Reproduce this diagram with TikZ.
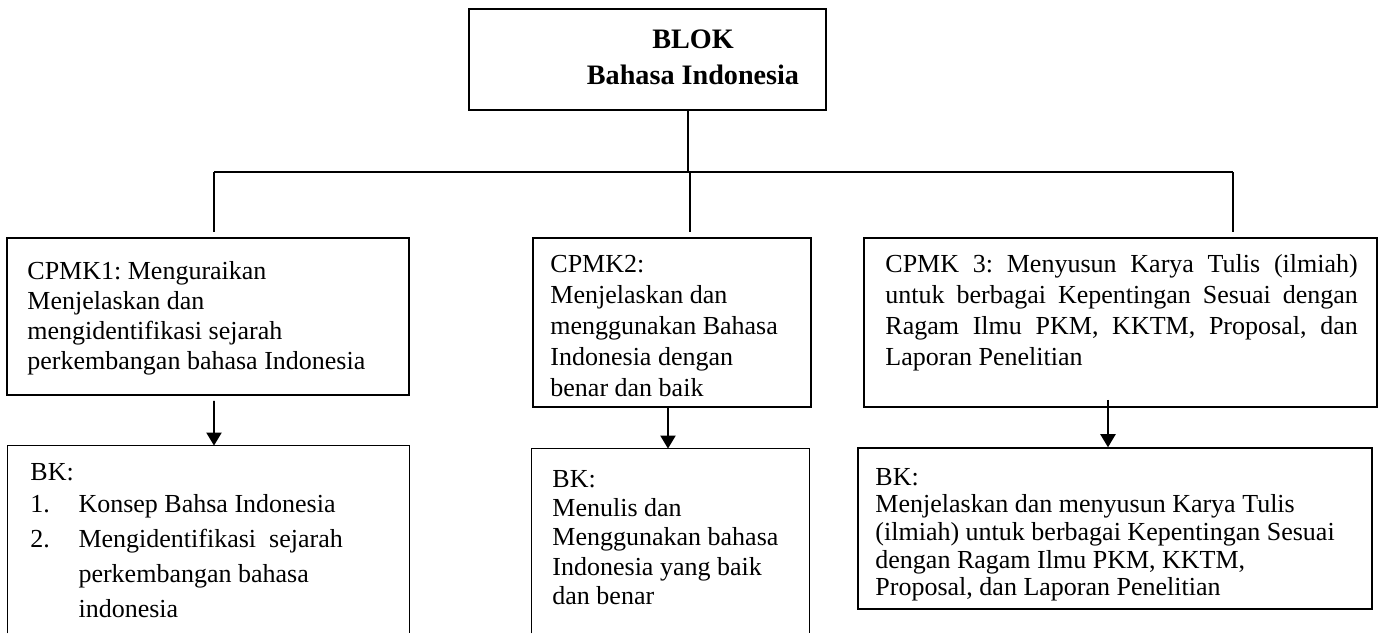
\documentclass[tikz,border=0pt]{standalone}
\usepackage{fontspec}
\setmainfont{Liberation Serif}
\usetikzlibrary{arrows.meta, positioning, fit}
\frenchspacing

\begin{document}
\begin{tikzpicture}[x=0.4615pt, y=-0.4615pt,
    box/.style={draw, line width=0.7pt, inner sep=0pt},
    frame/.style={inner sep=0pt},
    txt/.style={anchor=north west, inner sep=0pt, align=left, font=\fontsize{12}{13.85}\selectfont},
    link/.style={line width=0.7pt},
    arr/.style={line width=0.7pt, -{Triangle[length=6pt, width=7pt]}}]
    \useasboundingbox (0,0) rectangle (1385,633);

    % Top block
    \node[box, fit={(469,9) (826,110)}] (blok) {};
    \node[inner sep=0pt, align=center, font=\fontsize{13}{16.5}\selectfont\bfseries] (title) at (693,57) {BLOK\\Bahasa Indonesia};

    % CPMK boxes
    \node[box, fit={(7,238) (409,395)}] (c1) {};
    \node[txt] (c1t) at (27,261) {CPMK1: Menguraikan\\Menjelaskan dan\\mengidentifikasi sejarah\\perkembangan bahasa Indonesia};

    \node[box, fit={(533,238) (811,407)}] (c2) {};
    \node[txt, font=\fontsize{12}{14.3}\selectfont] (c2t) at (550,255) {CPMK2:\\Menjelaskan dan\\menggunakan Bahasa\\Indonesia dengan\\benar dan baik};

    \node[box, fit={(864,238) (1377,407)}] (c3) {};
    \node[txt, text width=218pt, align=justify, font=\fontsize{12}{14.3}\selectfont] (c3t) at (885,254) {CPMK 3: Menyusun Karya Tulis (ilmiah) \linebreak untuk berbagai Kepentingan Sesuai dengan \linebreak Ragam Ilmu PKM, KKTM, Proposal, dan \linebreak Laporan Penelitian};

    % BK boxes
    \node[frame, fit={(8,446) (409,633)}] (bk1) {};
    \draw[link] (bk1.south west) |- (bk1.north east) -- (bk1.south east);
    \node[txt, font=\fontsize{12}{16.15}\selectfont] (bk1t) at (30,463) {BK:\\[-1.35pt]
        \makebox[22.2pt][l]{1.}Konsep Bahsa Indonesia\\
        \makebox[22.2pt][l]{2.}Mengidentifikasi\ \ sejarah\\
        \hspace*{22.2pt}perkembangan bahasa\\
        \hspace*{22.2pt}indonesia};

    \node[frame, fit={(532,449) (809,633)}] (bk2) {};
    \draw[link] (bk2.south west) |- (bk2.north east) -- (bk2.south east);
    \node[txt, font=\fontsize{12}{13.5}\selectfont] (bk2t) at (552,470) {BK:\\Menulis dan\\Menggunakan bahasa\\Indonesia yang baik\\dan benar};

    \node[box, fit={(858,448) (1372,609)}] (bk3) {};
    \node[txt, font=\fontsize{12}{12.7}\selectfont] (bk3t) at (875,468) {BK:\\Menjelaskan dan menyusun Karya Tulis\\(ilmiah) untuk berbagai Kepentingan Sesuai\\dengan Ragam Ilmu PKM, KKTM,\\Proposal, dan Laporan Penelitian};

    % Tree lines
    \coordinate (stem) at (688,172);
    \coordinate (busL) at (214,172);
    \coordinate (busM) at (690,172);
    \coordinate (busR) at (1233,172);
    \draw[link] (blok.south -| stem) -- (stem);
    \draw[line width=1.1pt] (busL) -- (busR);
    \draw[link, shorten >=2.3pt] (busL) -- (busL |- c1.north);
    \draw[link, shorten >=2.3pt] (busM) -- (busM |- c2.north);
    \draw[link, shorten >=2.3pt] (busR) -- (busR |- c3.north);

    % Arrows
    \draw[arr] ([shift={(6,5)}]c1.south) -- ([shift={(5.5,0)}]bk1.north);
    \draw[arr] ([shift={(-4,0)}]c2.south) -- ([shift={(-2.5,0)}]bk2.north);
    \draw[arr] ([shift={(-12.5,-8)}]c3.south) -- ([shift={(-7,0)}]bk3.north);
\end{tikzpicture}
\end{document}
